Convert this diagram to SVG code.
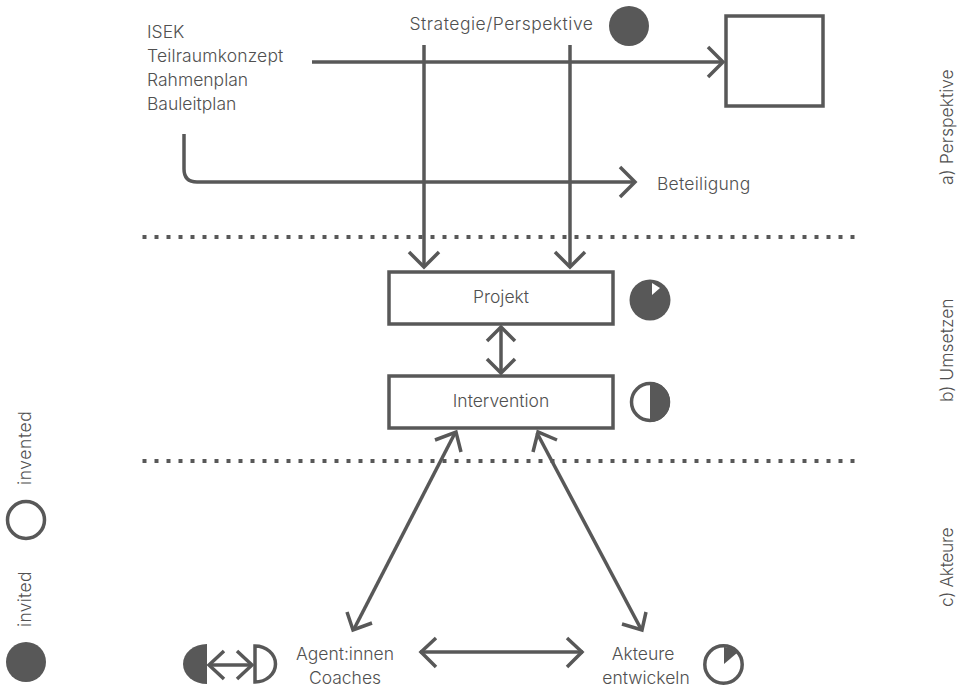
<svg xmlns="http://www.w3.org/2000/svg" width="961" height="687" viewBox="0 0 961 687">
<style>
text{font-family:"Inter","Liberation Sans",sans-serif;font-size:17.500px;font-weight:300;fill:#505050}
.l{fill:none;stroke:#585858;stroke-width:3.5}
.d{fill:none;stroke:#585858;stroke-width:4;stroke-dasharray:4 8}
.b{fill:#fff;stroke:#585858;stroke-width:3.5}
.f{fill:#585858}
.m{text-anchor:middle}
</style>
<rect width="961" height="687" fill="#fff"/>
<g id="connectors">
<path class="l" d="M312 62H722"/><path class="l" d="M708 47L723 62L708 77"/>
<path class="l" d="M184 134V169Q184 182 197 182H634"/><path class="l" d="M620 167L635 182L620 197"/>
<path class="l" d="M424 45V267"/><path class="l" d="M409 252L424 267L439 252"/>
<path class="l" d="M570 45V267"/><path class="l" d="M555 252L570 267L585 252"/>
<path class="l" d="M501 327V373"/><path class="l" d="M487 341L501 327L515 341M487 359L501 373L515 359"/>
<path class="l" d="M455 433L354 629"/><path class="l" d="M435 440L456 432L461 452M347 612L353 630L372 623"/>
<path class="l" d="M537 433L641 629"/><path class="l" d="M533 452L538 432L557 440M622 624L642 630L646 612"/>
<path class="l" d="M420 652H583"/><path class="l" d="M436 638L421 652L436 667M567 638L582 652L567 667"/>
<path class="l" d="M209 665H252"/><path class="l" d="M224 651L209 665L224 679M237 651L252 665L237 679"/>
<path class="d" d="M142.500 237H856"/>
<path class="d" d="M142.500 461H856"/>
</g>
<g id="sources"><text x="147" y="38">ISEK</text><text x="147" y="62" letter-spacing="0.150">Teilraumkonzept</text><text x="147" y="86">Rahmenplan</text><text x="147" y="110">Bauleitplan</text></g>
<g id="strategie"><text x="501.500" y="30" class="m" letter-spacing="0.500">Strategie/Perspektive</text><circle class="f" cx="629" cy="26" r="20"/></g>
<g id="square"><rect class="b" x="726" y="16" width="97" height="90"/></g>
<g id="beteiligung"><text x="657" y="190" letter-spacing="0.250">Beteiligung</text></g>
<g id="projekt"><rect class="b" x="389" y="272" width="224" height="52"/><text x="501" y="303" class="m">Projekt</text></g>
<g id="projekt-icon"><circle class="f" cx="650" cy="300" r="20.500"/><path fill="#fff" d="M652 283L660 288L652 295Z"/></g>
<g id="intervention"><rect class="b" x="389" y="376" width="224" height="52"/><text x="501" y="407" class="m">Intervention</text></g>
<g id="intervention-icon"><circle cx="650" cy="402" r="18.500" fill="#fff" stroke="#585858" stroke-width="3.500"/><path class="f" d="M650 382A20 20 0 0 1 650 422Z"/></g>
<g id="agent"><text x="345" y="660" class="m">Agent:innen</text><text x="345" y="684" class="m">Coaches</text></g>
<g id="agent-left"><path class="f" d="M207 644V684A24 20 0 0 1 207 644Z"/></g>
<g id="agent-right"><path fill="#fff" stroke="#585858" stroke-width="3.500" d="M255 646V682A20.500 18 0 0 0 255 646Z"/></g>
<g id="akteure"><text x="643" y="660" class="m">Akteure</text><text x="646" y="684" class="m">entwickeln</text></g>
<g id="akteure-icon"><circle cx="723.500" cy="664.500" r="18.700" fill="#fff" stroke="#585858" stroke-width="3.500"/><path class="f" d="M724 647A18 18 0 0 1 737 653L724 664Z"/></g>
<g id="legend-invented"><circle cx="26" cy="520" r="18.500" fill="#fff" stroke="#585858" stroke-width="3.500"/><text transform="translate(31 485) rotate(-90)" letter-spacing="0.600">invented</text></g>
<g id="legend-invited"><circle class="f" cx="26" cy="662" r="20"/><text transform="translate(31 627) rotate(-90)" letter-spacing="0.300">invited</text></g>
<g id="side-labels">
<text transform="translate(953 185) rotate(-90)">a) Perspektive</text>
<text transform="translate(953 402) rotate(-90)">b) Umsetzen</text>
<text transform="translate(953 607) rotate(-90)" letter-spacing="-0.400">c) Akteure</text>
</g>
</svg>
